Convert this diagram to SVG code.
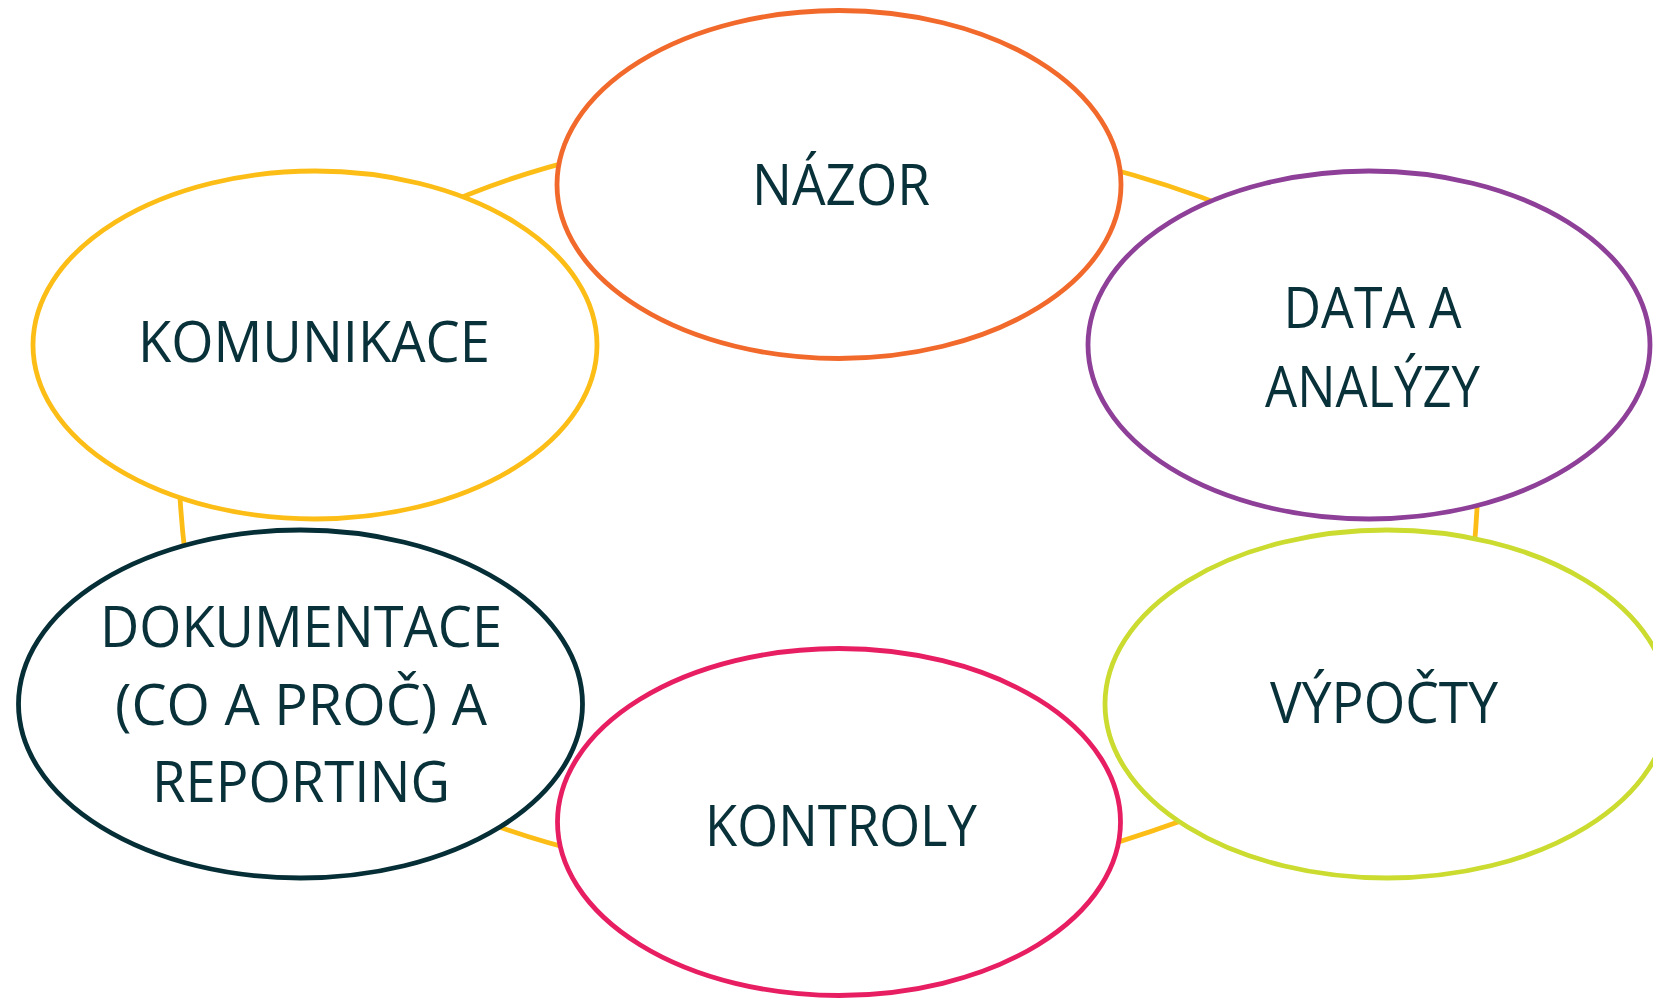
<svg xmlns="http://www.w3.org/2000/svg" width="1653" height="1000" viewBox="0 0 1653 1000">
  <style>
    .ring { fill: none; stroke: #FCBD16; stroke-width: 4.8; stroke-linecap: butt; }
    .node ellipse { fill: #FFFFFF; stroke-width: 4.8; }
    .label { font-family: "Open Sans", "Noto Sans", "Liberation Sans", sans-serif; font-size: 57px; fill: #08313A; text-anchor: middle; }
  </style>
  <rect x="0" y="0" width="1653" height="1000" fill="#FFFFFF"/>

  <!-- cycle ring segments between the nodes -->
  <g id="connectors">
    <path class="ring" d="M 430 211 A 652 377 0 0 1 590 156.3"/>
    <path class="ring" d="M 1100 166 Q 1167 183 1235 210"/>
    <path class="ring" d="M 1477.7 495 Q 1476.5 522 1474 550"/>
    <path class="ring" d="M 1095 849 Q 1150 833 1205 812"/>
    <path class="ring" d="M 470 816 A 652 377 0 0 0 590 853.7"/>
    <path class="ring" d="M 179.3 485 Q 181 520 185.2 555"/>
  </g>

  <g id="node-nazor" class="node">
    <ellipse cx="839" cy="184.5" rx="282" ry="174" stroke="#F2692C"/>
    <text class="label" x="841" y="205" textLength="178" lengthAdjust="spacingAndGlyphs">NÁZOR</text>
  </g>

  <g id="node-komunikace" class="node">
    <ellipse cx="315" cy="345" rx="282" ry="174" stroke="#FCBD16"/>
    <text class="label" x="314" y="361.5" textLength="352" lengthAdjust="spacingAndGlyphs">KOMUNIKACE</text>
  </g>

  <g id="node-data" class="node">
    <ellipse cx="1369" cy="345" rx="281" ry="174" stroke="#8E3F98"/>
    <text class="label" x="1372.5" y="328" textLength="178" lengthAdjust="spacingAndGlyphs">DATA A</text>
    <text class="label" x="1372.5" y="406.5" textLength="215" lengthAdjust="spacingAndGlyphs">ANALÝZY</text>
  </g>

  <g id="node-dokumentace" class="node">
    <ellipse cx="300.5" cy="704" rx="282" ry="174" stroke="#062E36"/>
    <text class="label" x="301" y="646.5" textLength="402" lengthAdjust="spacingAndGlyphs">DOKUMENTACE</text>
    <text class="label" x="301" y="725" textLength="372" lengthAdjust="spacingAndGlyphs">(CO A PROČ) A</text>
    <text class="label" x="301" y="801.5" textLength="298" lengthAdjust="spacingAndGlyphs">REPORTING</text>
  </g>

  <g id="node-vypocty" class="node">
    <ellipse cx="1387" cy="704" rx="282" ry="174" stroke="#CBDB2F"/>
    <text class="label" x="1384" y="723.3" textLength="228" lengthAdjust="spacingAndGlyphs">VÝPOČTY</text>
  </g>

  <g id="node-kontroly" class="node">
    <ellipse cx="839" cy="822" rx="281.5" ry="173.5" stroke="#E81E63"/>
    <text class="label" x="841" y="845.5" textLength="272" lengthAdjust="spacingAndGlyphs">KONTROLY</text>
  </g>
</svg>
